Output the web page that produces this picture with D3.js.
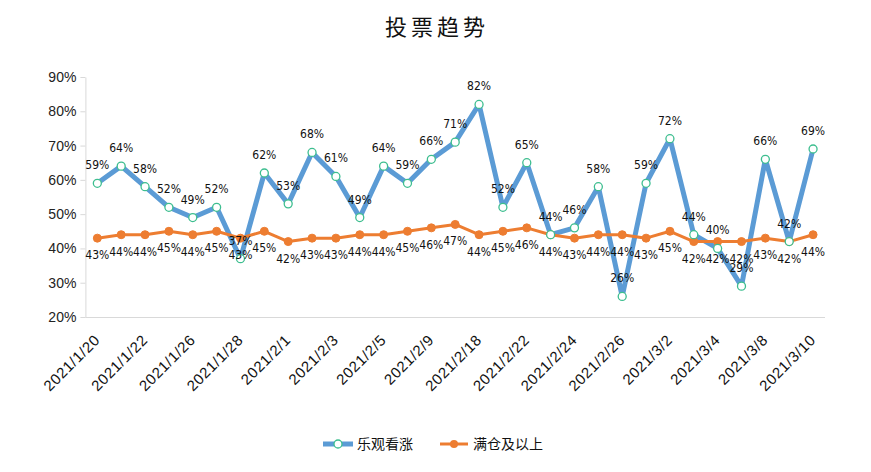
<!DOCTYPE html>
<html><head><meta charset="utf-8">
<script src="https://cdn.jsdelivr.net/npm/d3@7"></script>
<style>body{margin:0;background:#fff;}svg{display:block;}</style>
</head><body>
<svg id="chart" width="871" height="472"></svg>
<script>
const categories = ["2021/1/20","2021/1/21","2021/1/22","2021/1/25","2021/1/26","2021/1/27","2021/1/28","2021/1/29",
"2021/2/1","2021/2/2","2021/2/3","2021/2/4","2021/2/5","2021/2/8","2021/2/9","2021/2/10",
"2021/2/18","2021/2/19","2021/2/22","2021/2/23","2021/2/24","2021/2/25","2021/2/26",
"2021/3/1","2021/3/2","2021/3/3","2021/3/4","2021/3/5","2021/3/8","2021/3/9","2021/3/10"];
const bullish = [59,64,58,52,49,52,37,62,53,68,61,49,64,59,66,71,82,52,65,44,46,58,26,59,72,44,40,29,66,42,69];
const fullPos = [43,44,44,45,44,45,43,45,42,43,43,44,44,45,46,47,44,45,46,44,43,44,44,43,45,42,42,42,43,42,44];
const yTicks = [20,30,40,50,60,70,80,90];
const seriesNames = ["乐观看涨","满仓及以上"];

(function(){
const svg = d3.select("#chart");
const pL = 85.4, pR = 825, pT = 77, pB = 317;
const x = d3.scalePoint().domain(categories).range([pL, pR]).padding(0.5);
const y = d3.scaleLinear().domain([20, 90]).range([pB, pT]);

// title
svg.append("text").attr("x", 437).attr("y", 35).attr("text-anchor", "middle")
  .attr("font-family", "'Noto Sans CJK SC', sans-serif").attr("font-size", 22)
  .attr("letter-spacing", 4).attr("fill", "#111").text("投票趋势");

// y axis
const yAxis = svg.append("g").attr("transform", `translate(${pL},0)`)
  .call(d3.axisLeft(y).tickValues(yTicks).tickFormat(d => d + "%").tickSize(5).tickSizeOuter(0));
yAxis.select(".domain").attr("stroke", "#d9d9d9");
yAxis.selectAll(".tick line").attr("stroke", "#d9d9d9");
yAxis.selectAll("text").attr("font-family", "'Liberation Sans', Arial, sans-serif").attr("font-size", 14).attr("fill", "#222").attr("x", -9);

// x axis
const xAxis = svg.append("g").attr("transform", `translate(0,${pB})`)
  .call(d3.axisBottom(x).tickValues(categories.filter((d, i) => i % 2 === 0)).tickSize(0).tickSizeOuter(0));
xAxis.select(".domain").attr("stroke", "#d9d9d9").attr("d", `M${pL},0.5H${pR}`);
xAxis.selectAll("text")
  .attr("font-family", "'Liberation Sans', Arial, sans-serif").attr("font-size", 15).attr("fill", "#111")
  .attr("letter-spacing", 0.6)
  .attr("text-anchor", "end").attr("dy", 0).attr("y", 0)
  .attr("transform", "translate(3,24) rotate(-45)");

// lines
const line = d3.line().x((d, i) => x(categories[i])).y(d => y(d));
svg.append("path").datum(bullish).attr("d", line).attr("fill", "none")
  .attr("stroke", "#5B9BD5").attr("stroke-width", 5).attr("stroke-linejoin", "round");
svg.append("path").datum(fullPos).attr("d", line).attr("fill", "none")
  .attr("stroke", "#ED7D31").attr("stroke-width", 3).attr("stroke-linejoin", "round");

// markers
svg.append("g").selectAll("circle").data(fullPos).join("circle")
  .attr("cx", (d, i) => x(categories[i])).attr("cy", d => y(d)).attr("r", 4)
  .attr("fill", "#ED7D31").attr("stroke", "#ED7D31");
svg.append("g").selectAll("circle").data(bullish).join("circle")
  .attr("cx", (d, i) => x(categories[i])).attr("cy", d => y(d)).attr("r", 4)
  .attr("fill", "#fff").attr("stroke", "#3DBE8F").attr("stroke-width", 1.3);

// labels
const lf = "'DejaVu Sans Condensed', 'Liberation Sans', sans-serif";
svg.append("g").selectAll("text").data(bullish).join("text")
  .attr("x", (d, i) => x(categories[i])).attr("y", d => y(d) - 14)
  .attr("text-anchor", "middle").attr("font-family", lf).attr("font-size", 12).attr("fill", "#111")
  .text(d => d + "%");
svg.append("g").selectAll("text").data(fullPos).join("text")
  .attr("x", (d, i) => x(categories[i])).attr("y", d => y(d) + 21)
  .attr("text-anchor", "middle").attr("font-family", lf).attr("font-size", 12).attr("fill", "#111")
  .text(d => d + "%");

// legend
const lg = svg.append("g");
const ly = 444;
lg.append("line").attr("x1", 323).attr("x2", 353).attr("y1", ly).attr("y2", ly).attr("stroke", "#5B9BD5").attr("stroke-width", 5);
lg.append("circle").attr("cx", 338).attr("cy", ly).attr("r", 4).attr("fill", "#fff").attr("stroke", "#3DBE8F").attr("stroke-width", 1.3);
lg.append("text").attr("x", 357).attr("y", ly + 5).attr("font-family", "'Noto Sans CJK SC', sans-serif").attr("font-size", 14).attr("fill", "#111").text(seriesNames[0]);
lg.append("line").attr("x1", 440).attr("x2", 468).attr("y1", ly).attr("y2", ly).attr("stroke", "#ED7D31").attr("stroke-width", 3);
lg.append("circle").attr("cx", 454).attr("cy", ly).attr("r", 4).attr("fill", "#ED7D31");
lg.append("text").attr("x", 473).attr("y", ly + 5).attr("font-family", "'Noto Sans CJK SC', sans-serif").attr("font-size", 14).attr("fill", "#111").text(seriesNames[1]);
})();
</script>
</body></html>
